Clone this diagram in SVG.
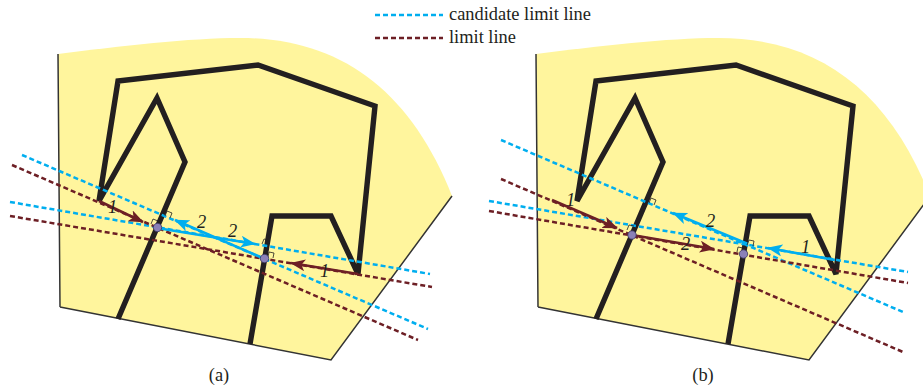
<svg xmlns="http://www.w3.org/2000/svg" width="923" height="387" viewBox="0 0 923 387">
<style>
.t{font-family:"Liberation Serif",serif;fill:#231f20}
.lg{font-size:18.4px}
.n{font-size:18.4px;font-style:italic}
.c{fill:none;stroke-width:2.5;stroke-dasharray:5 3}
.b{stroke:#00aeef}.r{stroke:#6d1f25}
.a{fill:none;stroke-width:2.6}
.w{fill:none;stroke:#231f20;stroke-width:5.4;stroke-linejoin:miter;stroke-miterlimit:2.5}
.e{fill:none;stroke:#333;stroke-width:1.5}
.m{fill:none;stroke:#231f20;stroke-width:.8}
.p{fill:#8a80b8;stroke:#3a3560;stroke-width:.8}
</style>
<defs>
<marker id="ab" viewBox="0 0 10 8" refX="9.5" refY="4" markerWidth="15" markerHeight="12" markerUnits="userSpaceOnUse" orient="auto"><path d="M0,0L10,4L0,8L2.5,4Z" fill="#00aeef"/></marker>
<marker id="ar" viewBox="0 0 10 8" refX="9.5" refY="4" markerWidth="15" markerHeight="12" markerUnits="userSpaceOnUse" orient="auto"><path d="M0,0L10,4L0,8L2.5,4Z" fill="#6d1f25"/></marker>
<g id="plan">
<path d="M58,54C120,46 190,38 240,38C340,38 410,90 452,196L331,360L60,307Z" fill="#fff59d"/>
<path class="e" d="M60,307L58,54M60,307L331,360L452,196"/>
<path class="w" d="M118,319L185,162L157,98L99,201L118,81L258,65L375,106L358,274L331,216L272,216L250,344"/>
</g>
</defs>
<g id="panel-a"><use href="#plan"/></g>
<g id="panel-b"><use href="#plan" x="478"/></g>
<g id="connectors">
<path class="c b" d="M22,155L428,329M10,202L430,274"/>
<path class="c r" d="M12,165L418,340M10,216L432,287"/>
<path class="c b" d="M501,140L903,312M489,201L908,272"/>
<path class="c r" d="M501,179L903,352M489,211L908,283"/>
<path class="a r" d="M99,201L143,222" marker-end="url(#ar)"/>
<path class="a b" d="M157,228L255,244" marker-end="url(#ab)"/>
<path class="a b" d="M265,259L175,220" marker-end="url(#ab)"/>
<path class="a r" d="M358,274L291,263" marker-end="url(#ar)"/>
<path class="a r" d="M552,200L617,228" marker-end="url(#ar)"/>
<path class="a r" d="M632,235L714,249" marker-end="url(#ar)"/>
<path class="a b" d="M748,244L673,213" marker-end="url(#ab)"/>
<path class="a b" d="M835,260L768,248" marker-end="url(#ab)"/>
<path class="m" d="M165,216L167,211L172,213L170,218M151,224L153,219L158,221M262,244L264,239L269,240L268,245M268,257L269,252L274,253L273,258"/>
<path class="m" d="M649,203L651,198L656,200L654,205M627,230L629,225L634,226M747,245L749,240L754,241L753,246M737,252L738,247L743,248"/>
</g>
<g id="node-a1"><circle class="p" cx="157.500" cy="227.500" r="4.200"/></g>
<g id="node-a2"><circle class="p" cx="264.500" cy="258.500" r="4.200"/></g>
<g id="node-b1"><circle class="p" cx="632" cy="235" r="4.200"/></g>
<g id="node-b2"><circle class="p" cx="743.500" cy="254" r="4.200"/></g>
<g id="labels">
<text class="t n" x="108" y="213">1</text>
<text class="t n" x="197" y="228">2</text>
<text class="t n" x="228" y="237">2</text>
<text class="t n" x="320" y="277">1</text>
<text class="t n" x="566" y="206">1</text>
<text class="t n" x="706" y="227">2</text>
<text class="t n" x="681" y="250">2</text>
<text class="t n" x="801" y="253">1</text>
<text class="t lg" x="449" y="20">candidate limit line</text>
<text class="t lg" x="449" y="43">limit line</text>
<text class="t lg" x="219" y="381" text-anchor="middle">(a)</text>
<text class="t lg" x="703" y="381" text-anchor="middle">(b)</text>
</g>
<g id="legend">
<path class="c b" d="M375,15L443,15"/>
<path class="c r" d="M375,38L443,38"/>
</g>
</svg>
